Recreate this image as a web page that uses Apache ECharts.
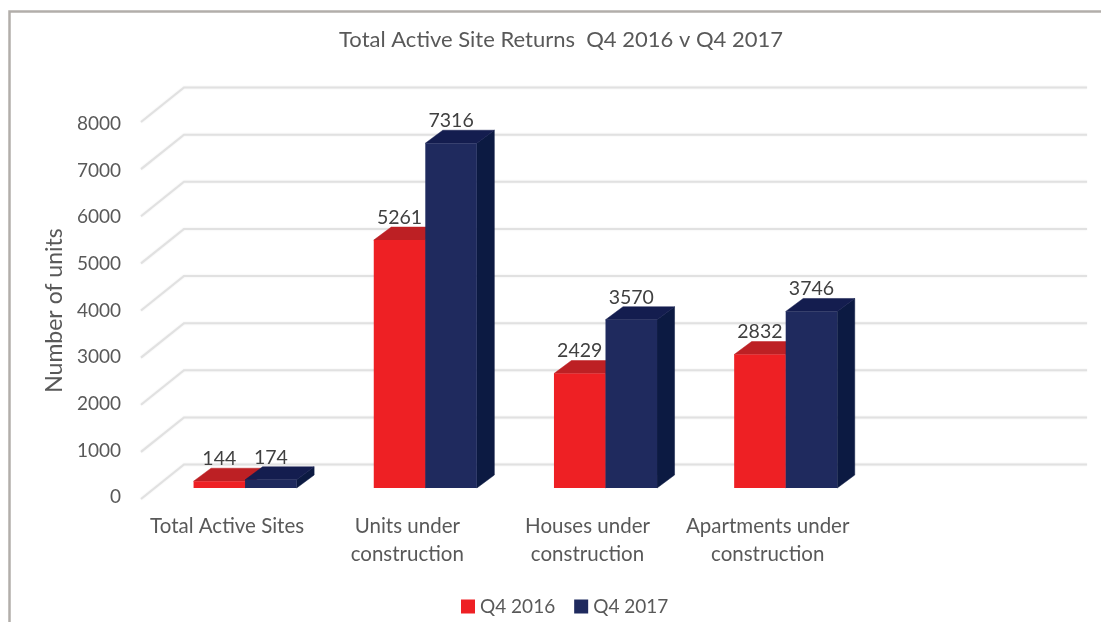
<!DOCTYPE html>
<html><head><meta charset="utf-8">
<style>html,body{margin:0;padding:0;background:#fff}#c{width:1101px;height:622px}</style>
<script src="https://cdn.jsdelivr.net/npm/echarts@6/dist/echarts.min.js"></script>
</head><body><div id="c"></div>
<script>
var titleText = 'Total Active Site Returns  Q4 2016 v Q4 2017';
var categories = ['Total Active Sites', 'Units under\nconstruction', 'Houses under\nconstruction', 'Apartments under\nconstruction', ''];
var seriesNames = ['Q4 2016', 'Q4 2017'];
var q42016 = [144, 5261, 2429, 2832];
var q42017 = [174, 7316, 3570, 3746];
var yTicks = [0, 1000, 2000, 3000, 4000, 5000, 6000, 7000, 8000];

var FONT = 'Lato, "Open Sans", sans-serif';
var WALL = [43, -34.5], FRONT = [14, -11], DEPTH = [17.5, -13], BAR = 0.286;

function wallItem(params, api) {
  var v = api.value(0);
  var half = api.size([1, 0])[0] / 2;
  var p = api.coord([0, v]);
  var q = api.coord([4, v]);
  var x0 = p[0] - half, x1 = q[0] + half, y = p[1];
  return {
    type: 'polyline', silent: true,
    shape: { points: [[x0, y], [x0 + WALL[0], y + WALL[1]], [x1 + WALL[0] + 2, y + WALL[1]]] },
    style: { fill: 'none', stroke: '#e1e1e1', lineWidth: 2, shadowBlur: 2, shadowColor: 'rgba(0,0,0,0.08)' }
  };
}
function barRenderer(side, front, top, right) {
  return function (params, api) {
    var c = api.value(0), v = api.value(1);
    var band = api.size([1, 0])[0], w = band * BAR;
    var a = api.coord([c, v]), b = api.coord([c, 0]);
    var xl = a[0] + FRONT[0] + (side < 0 ? -w : 0), xr = xl + w;
    var yt = a[1] + FRONT[1], yb = b[1] + FRONT[1];
    var dx = DEPTH[0], dy = DEPTH[1];
    return {
      type: 'group', children: [
        { type: 'polygon', shape: { points: [[xr, yt], [xr + dx, yt + dy], [xr + dx, yb + dy], [xr, yb]] }, style: { fill: right, stroke: right, lineWidth: 0.5 } },
        { type: 'polygon', shape: { points: [[xl, yt], [xl + dx, yt + dy], [xr + dx, yt + dy], [xr, yt]] }, style: { fill: top, stroke: top, lineWidth: 0.5 } },
        { type: 'rect', shape: { x: xl, y: yt, width: w, height: yb - yt }, style: { fill: front } },
        { type: 'text', style: { x: (xl + xr) / 2, y: yt - 22.5, text: String(v), align: 'center', verticalAlign: 'middle', fill: '#404040', font: '19.5px ' + FONT } }
      ]
    };
  };
}
var chart = echarts.init(document.getElementById('c'), null, { renderer: 'canvas' });
chart.setOption({
  animation: false,
  backgroundColor: '#fff',
  title: { text: titleText, left: 556, top: 24, textAlign: 'center', textStyle: { fontFamily: FONT, fontWeight: 'normal', fontSize: 22, color: '#595959' } },
  legend: {
    data: seriesNames, left: 456, top: 592, itemWidth: 14, itemHeight: 14, itemGap: 19, icon: 'rect',
    textStyle: { fontFamily: FONT, fontSize: 19, color: '#595959' }
  },
  grid: [
    { left: 141, right: 59, top: 122, bottom: 123 },
    { left: 137, right: 63, top: 124, bottom: 125 }
  ],
  xAxis: [
    { gridIndex: 0, type: 'category', data: categories, axisLine: { show: false }, axisTick: { show: false }, axisLabel: { show: false } },
    { gridIndex: 1, type: 'category', data: categories, axisLine: { show: false }, axisTick: { show: false },
      axisLabel: { interval: 0, margin: 15, fontFamily: FONT, fontSize: 20.5, color: '#595959', lineHeight: 28 } }
  ],
  yAxis: [
    { gridIndex: 0, type: 'value', min: 0, max: 8000, interval: 1000, splitLine: { show: false }, axisLine: { show: false }, axisTick: { show: false }, axisLabel: { show: false } },
    { gridIndex: 1, type: 'value', min: 0, max: 8000, interval: 1000, splitLine: { show: false }, axisLine: { show: false }, axisTick: { show: false },
      name: 'Number of units', nameLocation: 'middle', nameGap: 67, nameRotate: 90,
      nameTextStyle: { fontFamily: FONT, fontSize: 23, color: '#595959' },
      axisLabel: { margin: 16, fontFamily: FONT, fontSize: 19, color: '#595959', formatter: function (v) { return String(v); } } }
  ],
  series: [
    { name: 'walls', type: 'custom', xAxisIndex: 0, yAxisIndex: 0, renderItem: wallItem, data: yTicks.map(function (t) { return [t]; }), encode: { y: 0 }, silent: true, z: 1 },
    { name: seriesNames[0], type: 'custom', xAxisIndex: 0, yAxisIndex: 0, itemStyle: { color: '#ee2024' }, z: 2,
      renderItem: barRenderer(-1, '#ee2024', '#bd2024', '#a81c20'), data: q42016.map(function (v, i) { return [i, v]; }), encode: { x: 0, y: 1 } },
    { name: seriesNames[1], type: 'custom', xAxisIndex: 0, yAxisIndex: 0, itemStyle: { color: '#1f2a5e' }, z: 3,
      renderItem: barRenderer(1, '#1f2a5e', '#141d4f', '#0c1a42'), data: q42017.map(function (v, i) { return [i, v]; }), encode: { x: 0, y: 1 } }
  ],
  graphic: [
    { type: 'polyline', silent: true, shape: { points: [[9.5, 622], [9.5, 11.5], [1101, 11.5]] }, style: { fill: 'none', stroke: '#b2aeaa', lineWidth: 2.5 } }
  ]
});
</script></body></html>
